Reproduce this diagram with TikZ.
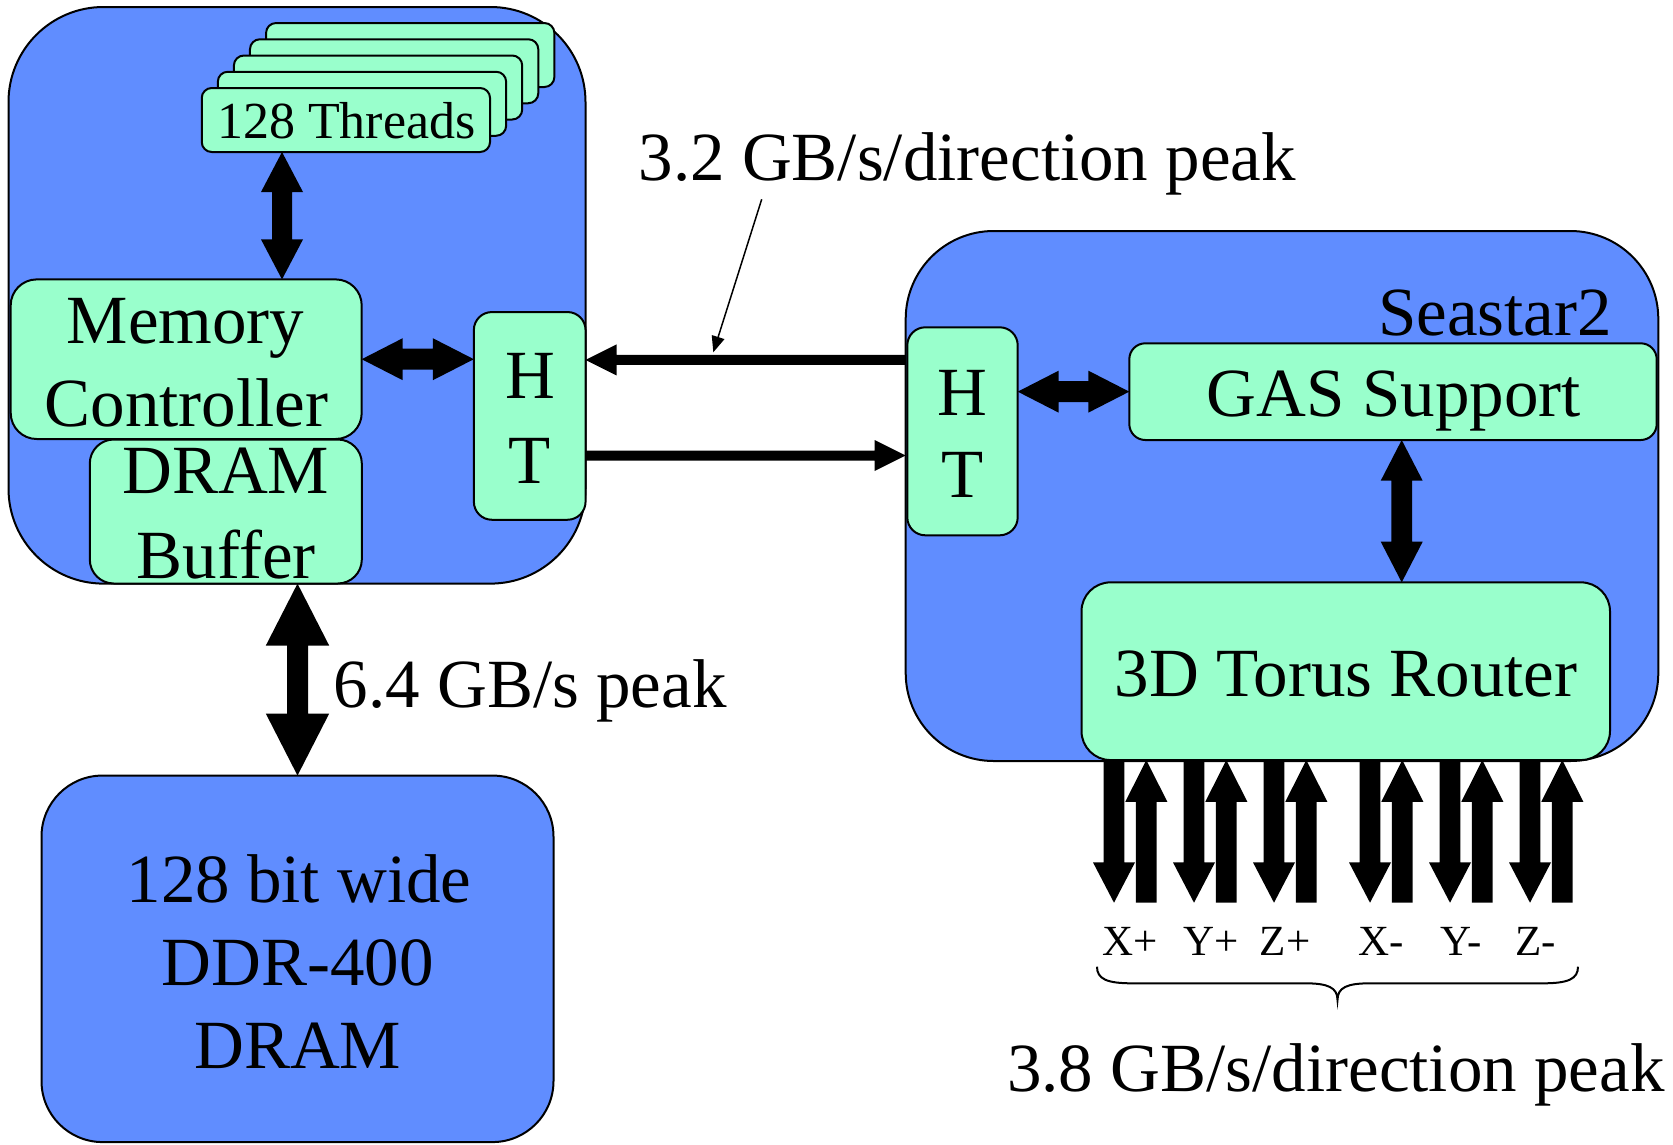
\documentclass[tikz,border=0pt]{standalone}
\usepackage{fontspec}
\setmainfont{Liberation Serif}
\usetikzlibrary{calc,arrows.meta}
\definecolor{cblue}{RGB}{96,141,255}
\definecolor{cgreen}{RGB}{153,255,204}
% double-headed block arrow: #1 end A, #2 end B, #3 half shaft, #4 half head, #5 head length
\newcommand\dblarrow[5]{%
  \coordinate (tmpa) at ($(#1)!#5!(#2)$);
  \coordinate (tmpb) at ($(#2)!#5!(#1)$);
  \fill[blk] (#1) -- ($(tmpa)!#4!90:(#2)$) -- ($(tmpa)!#3!90:(#2)$)
    -- ($(tmpb)!#3!-90:(#1)$) -- ($(tmpb)!#4!-90:(#1)$) -- (#2)
    -- ($(tmpb)!#4!90:(#1)$) -- ($(tmpb)!#3!90:(#1)$)
    -- ($(tmpa)!#3!-90:(#2)$) -- ($(tmpa)!#4!-90:(#2)$) -- cycle;
}
% single-headed block arrow: #1 tail, #2 tip
\newcommand\sglarrow[5]{%
  \coordinate (tmpb) at ($(#2)!#5!(#1)$);
  \fill[blk] ($(#1)!#3!90:(#2)$) -- ($(tmpb)!#3!-90:(#1)$) -- ($(tmpb)!#4!-90:(#1)$)
    -- (#2) -- ($(tmpb)!#4!90:(#1)$) -- ($(tmpb)!#3!90:(#1)$)
    -- ($(#1)!#3!-90:(#2)$) -- cycle;
}
\tikzset{
  bluebox/.style={draw=black, line width=2pt, fill=cblue, inner sep=0pt, outer sep=0pt},
  greenbox/.style={draw=black, line width=2pt, fill=cgreen, inner sep=0pt, outer sep=0pt},
  big/.style={font={\fontsize{69pt}{83pt}\selectfont}, inner sep=0pt, anchor=base},
  mid/.style={font={\fontsize{52pt}{62pt}\selectfont}, inner sep=0pt, anchor=base},
  small/.style={font={\fontsize{43pt}{52pt}\selectfont}, inner sep=0pt, anchor=base},
  blk/.style={fill=black},
}
\begin{document}
\begin{tikzpicture}[x=1pt,y=-1pt]
\useasboundingbox (0,0) rectangle (1673,1144);

% ---------- left: processor ----------
\node[bluebox, minimum width=577pt, minimum height=576.6pt, rounded corners=95pt] (cpu) at (297,295.3) {};
\foreach \k in {4,3,2,1,0} {
  \node[greenbox, minimum width=288.3pt, minimum height=64pt, rounded corners=10pt]
    (thr\k) at ({345.9+16.08*\k},{120-16.25*\k}) {};
}
\node[mid] (tThreads) at (346.3,138.5) {128 Threads};
\node[greenbox, minimum width=351pt, minimum height=159.6pt, rounded corners=26pt] (mc) at (186.2,359.2) {};
\node[big] (tMem) at (185.5,343.3) {Memory};
\node[big] (tCtrl) at (186.5,426) {Controller};
\node[greenbox, minimum width=272pt, minimum height=144pt, rounded corners=24pt] (buf) at (225.8,511.5) {};
\node[big] (tBufA) at (225.8,493.7) {DRAM};
\node[big] (tBufB) at (226.2,578) {Buffer};
\node[greenbox, minimum width=111.7pt, minimum height=207.7pt, rounded corners=18pt] (htL) at (529.7,415.9) {};
\node[big] (tHL) at (530,398) {H};
\node[big] (tTL) at (530,483) {T};

% ---------- bottom left: DRAM ----------
\node[bluebox, minimum width=512pt, minimum height=366.5pt, rounded corners=61pt] (dram) at (297.5,958.8) {};
\node[big] (tD1) at (299,902) {128 bit wide};
\node[big] (tD2) at (297.7,985.4) {DDR-400};
\node[big] (tD3) at (297.7,1068) {DRAM};

% ---------- right: Seastar2 ----------
\node[bluebox, minimum width=752.6pt, minimum height=530pt, rounded corners=88pt] (sea) at (1282,496) {};
\node[big] (tSea) at (1495,335) {Seastar2};
\node[greenbox, minimum width=110.4pt, minimum height=208pt, rounded corners=18pt] (htR) at (962.5,431.3) {};
\node[big] (tHR) at (962.2,415) {H};
\node[big] (tTR) at (962.2,497.7) {T};
\node[greenbox, minimum width=527.4pt, minimum height=96.7pt, rounded corners=16pt] (gas) at (1393,391.65) {};
\node[big] (tGas) at (1393.8,416.7) {GAS Support};
\node[greenbox, minimum width=528.5pt, minimum height=177.7pt, rounded corners=29pt] (torus) at (1345.75,671.2) {};
\node[big] (tTorus) at (1346,696.7) {3D Torus Router};

% ---------- block arrows ----------
\coordinate (a1) at ([xshift=-63.9pt]thr0.south);
\coordinate (a1b) at (a1 |- mc.north);
\dblarrow{a1}{a1b}{10pt}{21pt}{40pt}
\coordinate (a2b) at (mc.east -| htL.west);
\dblarrow{mc.east}{a2b}{10.5pt}{21pt}{41pt}
\coordinate (a3a) at (dram.north |- cpu.south);
\dblarrow{a3a}{dram.north}{10.5pt}{31.7pt}{62pt}
\coordinate (a4a) at (gas.west -| htR.east);
\dblarrow{a4a}{gas.west}{10.5pt}{21pt}{41pt}
\coordinate (a5a) at ([xshift=8.7pt]gas.south);
\coordinate (a5c) at (a5a |- torus.north);
\dblarrow{a5a}{a5c}{10.3pt}{21pt}{40.7pt}

% ---------- HyperTransport links ----------
\coordinate (l1tip) at ([yshift=56pt]htL.east);
\coordinate (l1tail) at (l1tip -| sea.west);
\sglarrow{l1tail}{l1tip}{5pt}{15.5pt}{31pt}
\coordinate (l2tail) at ([yshift=-39.6pt]htL.east);
\coordinate (l2tip) at (l2tail -| sea.west);
\sglarrow{l2tail}{l2tip}{5pt}{15.5pt}{31pt}
\node[big] (t32) at (967.2,180) {3.2 GB/s/direction peak};
\coordinate (c1) at (761.7,199.3);
\coordinate (c2) at (713.3,352.3);
\draw[line width=1.5pt, -{Triangle[length=16pt,width=13pt]}] (c1) -- (c2);

\node[big] (t64) at (530.3,707.7) {6.4 GB/s peak};

% ---------- torus ports ----------
\foreach \d/\n/\lab/\lx in {1114/xp/X+/1130,1194/yp/Y+/1211,1274/zp/Z+/1285,1370/xm/X-/1381,1450/ym/Y-/1461,1530/zm/Z-/1536} {
  \coordinate (dn\n) at (\d,902.7);
  \coordinate (dt\n) at (dn\n |- torus.south);
  \sglarrow{dt\n}{dn\n}{10.4pt}{21pt}{40.3pt}
  \coordinate (up\n) at (\d+32.3,902.7);
  \coordinate (ut\n) at (up\n |- torus.south);
  \sglarrow{up\n}{ut\n}{10.4pt}{21pt}{41.7pt}
  \node[small] (l\n) at (\lx,955) {\lab};
}
% brace
\coordinate (br1) at (1097,966.7);
\coordinate (br2) at (1578,966.7);
\coordinate (brm) at (1337.5,1000);
\draw[line width=2pt] (br1) .. controls (1097,979) and (1107,983.3) .. (1132,983.3)
  -- (1305,983.3) .. controls (1328,983.3) and (1337.5,987.5) .. (brm)
  .. controls (1337.5,987.5) and (1347,983.3) .. (1370,983.3)
  -- (1543,983.3) .. controls (1568,983.3) and (1578,979) .. (br2);
\node[big] (t38) at (1335.8,1091.7) {3.8 GB/s/direction peak};
\end{tikzpicture}
\end{document}
